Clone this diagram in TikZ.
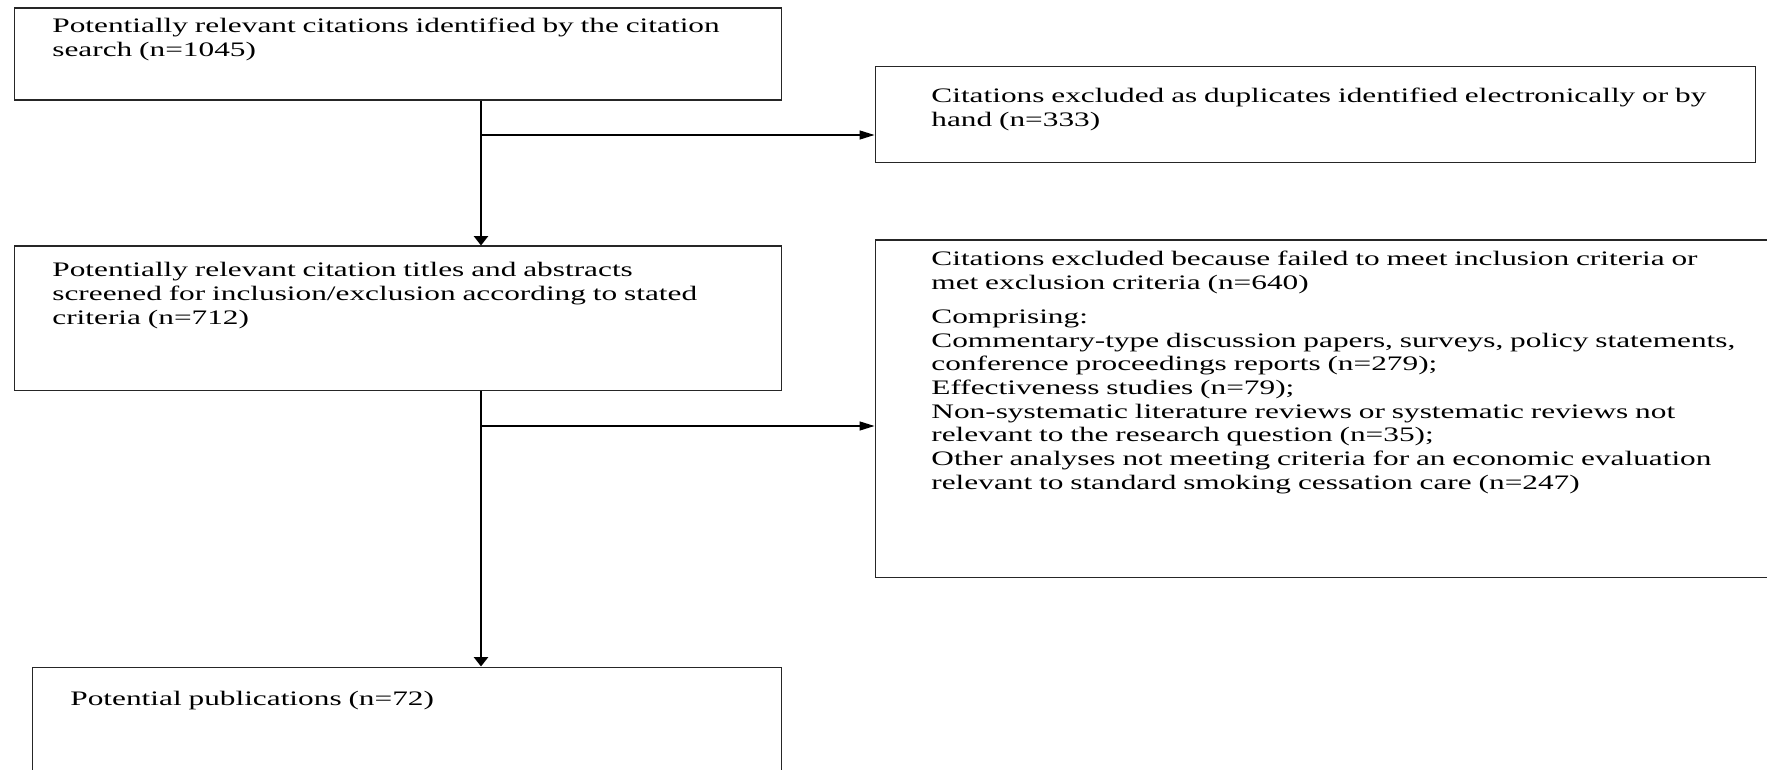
\documentclass[tikz,border=0pt]{standalone}
\usepackage{fontspec}
\setmainfont{Liberation Serif}
\newfontfamily\flowfont[FakeStretch=1.52]{Liberation Serif}
\usetikzlibrary{arrows.meta}
\begin{document}
\begin{tikzpicture}[x=0.5pt,y=-0.5pt,
  stagebox/.style={draw=black!85, line width=0.6pt, rectangle, inner sep=0pt,
    anchor=north west},
  boxtext/.style={anchor=base west, inner sep=0pt, align=left, text width=#1,
    font=\flowfont\fontsize{10.3}{11.85}\selectfont},
  trunk/.style={line width=1.3pt, -{Triangle[length=4.7pt,width=7pt]}},
  branch/.style={line width=0.7pt, -{Triangle[length=7.5pt,width=4.5pt]}}]
\useasboundingbox (0,0) rectangle (1767,770);
\clip (0,0) rectangle (1767,770);

% boxes
\node[stagebox, minimum width=383.75pt, minimum height=46pt]   (A) at (13.5,7.5) {};
\node[stagebox, minimum width=440pt,    minimum height=48pt]   (B) at (874.5,66) {};
\node[stagebox, minimum width=383.75pt, minimum height=72pt]   (C) at (13.5,245.5) {};
\node[stagebox, minimum width=452.75pt, minimum height=168.5pt] (D) at (874.5,239.5) {};
\node[stagebox, minimum width=374.75pt, minimum height=59.5pt] (E) at (31.5,666.5) {};

% texts
\node[boxtext=370pt] (At) at (52,32.5) {Potentially relevant citations identified by the citation\\search (n=1045)};
\node[boxtext=420pt] (Bt) at (931,103) {Citations excluded as duplicates identified electronically or by\\hand (n=333)};
\node[boxtext=370pt] (Ct) at (52,277) {Potentially relevant citation titles and abstracts\\screened for inclusion/exclusion according to stated\\criteria (n=712)};
\node[boxtext=420pt] (Dt) at (931,266) {Citations excluded because failed to meet inclusion criteria or\\met exclusion criteria (n=640)\\[5pt]
Comprising:\\
Commentary-type discussion papers, surveys, policy statements,\\
conference proceedings reports (n=279);\\
Effectiveness studies (n=79);\\
Non-systematic literature reviews or systematic reviews not\\
relevant to the research question (n=35);\\
Other analyses not meeting criteria for an economic evaluation\\
relevant to standard smoking cessation care (n=247)};
\node[boxtext=360pt] (Et) at (70,705) {Potential publications (n=72)};

% connectors
\coordinate (t1) at (481,135);
\coordinate (t2) at (481,426);
\draw[trunk] (A.south -| t1) -- (C.north -| t1);
\draw[trunk] (C.south -| t1) -- (E.north -| t1);
\draw[branch] (t1) -- (B.west |- t1);
\draw[branch] (t2) -- (D.west |- t2);
\end{tikzpicture}
\end{document}
